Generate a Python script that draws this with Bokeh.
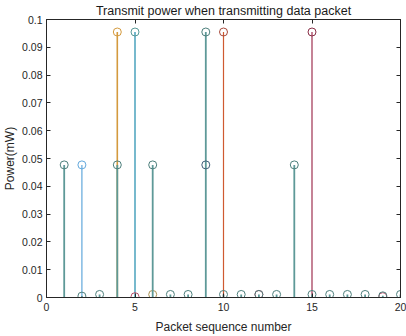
from bokeh.plotting import figure
from bokeh.models import Range1d, LinearAxis, FixedTicker
from bokeh.embed import file_html
from bokeh.resources import INLINE

# Data
teal_x = [1, 2, 3, 4, 6, 7, 8, 9, 10, 11, 12, 13, 14, 15, 16, 17, 18, 19, 20]
teal_y = [0.0477, 0.0005, 0.0011, 0.0477, 0.0477, 0.0011, 0.0011, 0.0955, 0.0011,
          0.0011, 0.0011, 0.0011, 0.0477, 0.0011, 0.0011, 0.0011, 0.0011, 0.0006, 0.0011]
lblue_x = [2]
lblue_y = [0.0477]
orange_x = [4]
orange_y = [0.0955]
cyan_x = [5]
cyan_y = [0.0955]
red_x = [10]
red_y = [0.0955]
dred_x = [15]
dred_y = [0.0955]
navy_x = [9]
navy_y = [0.0477]
pink_x = [5, 12, 19]
pink_y = [0.0003, 0.0011, 0.0003]
olive_x = [6]
olive_y = [0.0011]

x_ticks = [0, 5, 10, 15, 20]
y_ticks = [round(i * 0.01, 2) for i in range(11)]
y_labels = {t: ("0" if t == 0 else ("0.1" if t == 0.1 else f"{t:.2f}")) for t in y_ticks}

FONT = "Liberation Sans"
AX = "#262626"

p = figure(width=406, height=336, output_backend="svg", toolbar_location=None,
           x_range=Range1d(0, 20), y_range=Range1d(0, 0.1),
           title="Transmit power when transmitting data packet",
           min_border_left=10, min_border_right=6, min_border_bottom=39, min_border_top=0)
p.title.align = "center"
p.title.text_font = FONT
p.title.text_font_size = "12.5px"
p.title.text_font_style = "normal"
p.title.text_color = "#1a1a1a"
p.title.standoff = 3
p.grid.visible = False
p.outline_line_color = AX
p.background_fill_color = "white"
p.border_fill_color = "white"

for ax in (p.xaxis[0], p.yaxis[0]):
    ax.major_tick_in = 4
    ax.major_tick_out = 0
    ax.minor_tick_line_color = None
    ax.axis_line_color = AX
    ax.major_tick_line_color = AX
    ax.major_label_text_font = FONT
    ax.major_label_text_font_size = "10.5px"
    ax.major_label_text_color = AX
    ax.axis_label_text_font = FONT
    ax.axis_label_text_font_size = "12px"
    ax.axis_label_text_font_style = "normal"
    ax.axis_label_text_color = AX

p.xaxis[0].ticker = FixedTicker(ticks=x_ticks)
p.yaxis[0].ticker = FixedTicker(ticks=y_ticks)
p.yaxis[0].major_label_overrides = y_labels
p.xaxis[0].axis_label = "Packet sequence number"
p.yaxis[0].axis_label = "Power(mW)"
p.xaxis[0].major_label_standoff = 5
p.xaxis[0].axis_label_standoff = 6
p.yaxis[0].major_label_standoff = 4
p.yaxis[0].axis_label_standoff = 2

top = LinearAxis(ticker=FixedTicker(ticks=x_ticks), major_label_text_color=None,
                 major_label_text_font_size="1px", major_label_standoff=0,
                 major_tick_in=4, major_tick_out=0, minor_tick_line_color=None,
                 axis_line_color=AX, major_tick_line_color=AX)
right = LinearAxis(ticker=FixedTicker(ticks=y_ticks), major_label_text_color=None,
                   major_label_text_font_size="1px", major_label_standoff=0,
                   major_tick_in=4, major_tick_out=0, minor_tick_line_color=None,
                   axis_line_color=AX, major_tick_line_color=AX)
p.add_layout(top, "above")
p.add_layout(right, "right")

def stem(xs, ys, color, mcolor=None, lw=1.2, draw_line=True):
    if draw_line:
        p.segment(x0=xs, y0=[0] * len(xs), x1=xs, y1=ys, line_color=color, line_width=lw)
    p.scatter(x=xs, y=ys, marker="circle", size=8, fill_color=None,
              line_color=mcolor or color, line_width=1)

stem(orange_x, orange_y, "#d49a3e", lw=1.6)
stem(cyan_x, cyan_y, "#4aa2bc", "#5a9a98", lw=1.5)
stem(red_x, red_y, "#cf5a30", "#a84a3c", lw=1.2)
stem(dred_x, dred_y, "#9e3050", "#8a3048", lw=1.2)
stem(lblue_x, lblue_y, "#62a8dc", lw=1.2)
stem(pink_x, pink_y, "#b8506a", draw_line=False)
stem(olive_x, olive_y, "#a89050", draw_line=False)
stem(teal_x, teal_y, "#5e9998", "#4d7f7c", lw=1.8)
stem(navy_x, navy_y, "#405f7a", draw_line=False)

open("out.html", "w").write(file_html(p, INLINE))
